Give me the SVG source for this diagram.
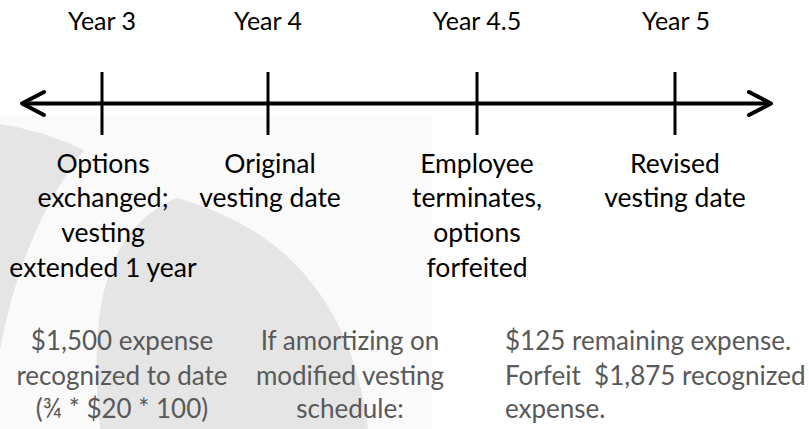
<svg xmlns="http://www.w3.org/2000/svg" width="809" height="429" viewBox="0 0 809 429">
  <style>
    .top { font-family: Lato, "Liberation Sans", sans-serif; font-size: 25px; fill: #000; text-anchor: middle; }
    .lbl { font-family: Lato, "Liberation Sans", sans-serif; font-size: 26.5px; fill: #000; text-anchor: middle; }
    .note { font-family: Lato, "Liberation Sans", sans-serif; font-size: 26px; fill: #595959; text-anchor: middle; }
    .noteL { font-family: Lato, "Liberation Sans", sans-serif; font-size: 26px; fill: #595959; text-anchor: start; }
    .tick { stroke: #000; stroke-width: 3; }
    .axis { stroke: #000; stroke-width: 4; fill: none; }
    .bg { fill: #e5e5e5; }
  </style>
  <defs>
    <marker id="arrow" markerUnits="userSpaceOnUse" markerWidth="30" markerHeight="30" viewBox="-26 -15 30 30" refX="0" refY="0" orient="auto-start-reverse" overflow="visible">
      <path d="M-22,-11.5 L0,0 L-22,11.5" fill="none" stroke="#000" stroke-width="4" stroke-linecap="round" stroke-linejoin="round"/>
    </marker>
  </defs>
  <rect width="809" height="429" fill="#fff"/>
  <g id="background">
    <rect x="0" y="116" width="432" height="313" fill="#fafafa"/>
    <path class="bg" d="M0,124 Q45,131 84,150 Q22,230 0,350 Z"/>
    <path class="bg" d="M100,429 C88,310 105,228 177,198 Q345,245 368,429 Z"/>
  </g>
  <g id="connectors">
    <line class="axis" x1="22" y1="103.5" x2="771" y2="103.5" marker-start="url(#arrow)" marker-end="url(#arrow)"/>
  </g>
  <g id="year3">
    <line class="tick" x1="102" y1="72" x2="102" y2="135"/>
    <text class="top" x="102" y="30">Year 3</text>
    <text class="lbl" x="103" y="173">Options</text>
    <text class="lbl" x="103" y="207">exchanged;</text>
    <text class="lbl" x="103" y="242">vesting</text>
    <text class="lbl" x="103" y="277">extended 1 year</text>
  </g>
  <g id="year4">
    <line class="tick" x1="268" y1="72" x2="268" y2="135"/>
    <text class="top" x="268" y="30">Year 4</text>
    <text class="lbl" x="270" y="173">Original</text>
    <text class="lbl" x="270" y="207">vesting date</text>
  </g>
  <g id="year45">
    <line class="tick" x1="477" y1="72" x2="477" y2="135"/>
    <text class="top" x="477" y="30">Year 4.5</text>
    <text class="lbl" x="477" y="173">Employee</text>
    <text class="lbl" x="477" y="207">terminates,</text>
    <text class="lbl" x="477" y="242">options</text>
    <text class="lbl" x="477" y="277">forfeited</text>
  </g>
  <g id="year5">
    <line class="tick" x1="675" y1="72" x2="675" y2="135"/>
    <text class="top" x="676" y="30">Year 5</text>
    <text class="lbl" x="675" y="173">Revised</text>
    <text class="lbl" x="675" y="207">vesting date</text>
  </g>
  <g id="note1">
    <text class="note" x="122" y="350">$1,500 expense</text>
    <text class="note" x="122" y="385">recognized to date</text>
    <text class="note" x="122" y="418">(¾ * $20 * 100)</text>
  </g>
  <g id="note2">
    <text class="note" x="350" y="350">If amortizing on</text>
    <text class="note" x="350" y="385">modified vesting</text>
    <text class="note" x="350" y="418">schedule:</text>
  </g>
  <g id="note3">
    <text class="noteL" x="505" y="350">$125 remaining expense.</text>
    <text class="noteL" x="505" y="385" xml:space="preserve">Forfeit  $1,875 recognized</text>
    <text class="noteL" x="505" y="418">expense.</text>
  </g>
</svg>
